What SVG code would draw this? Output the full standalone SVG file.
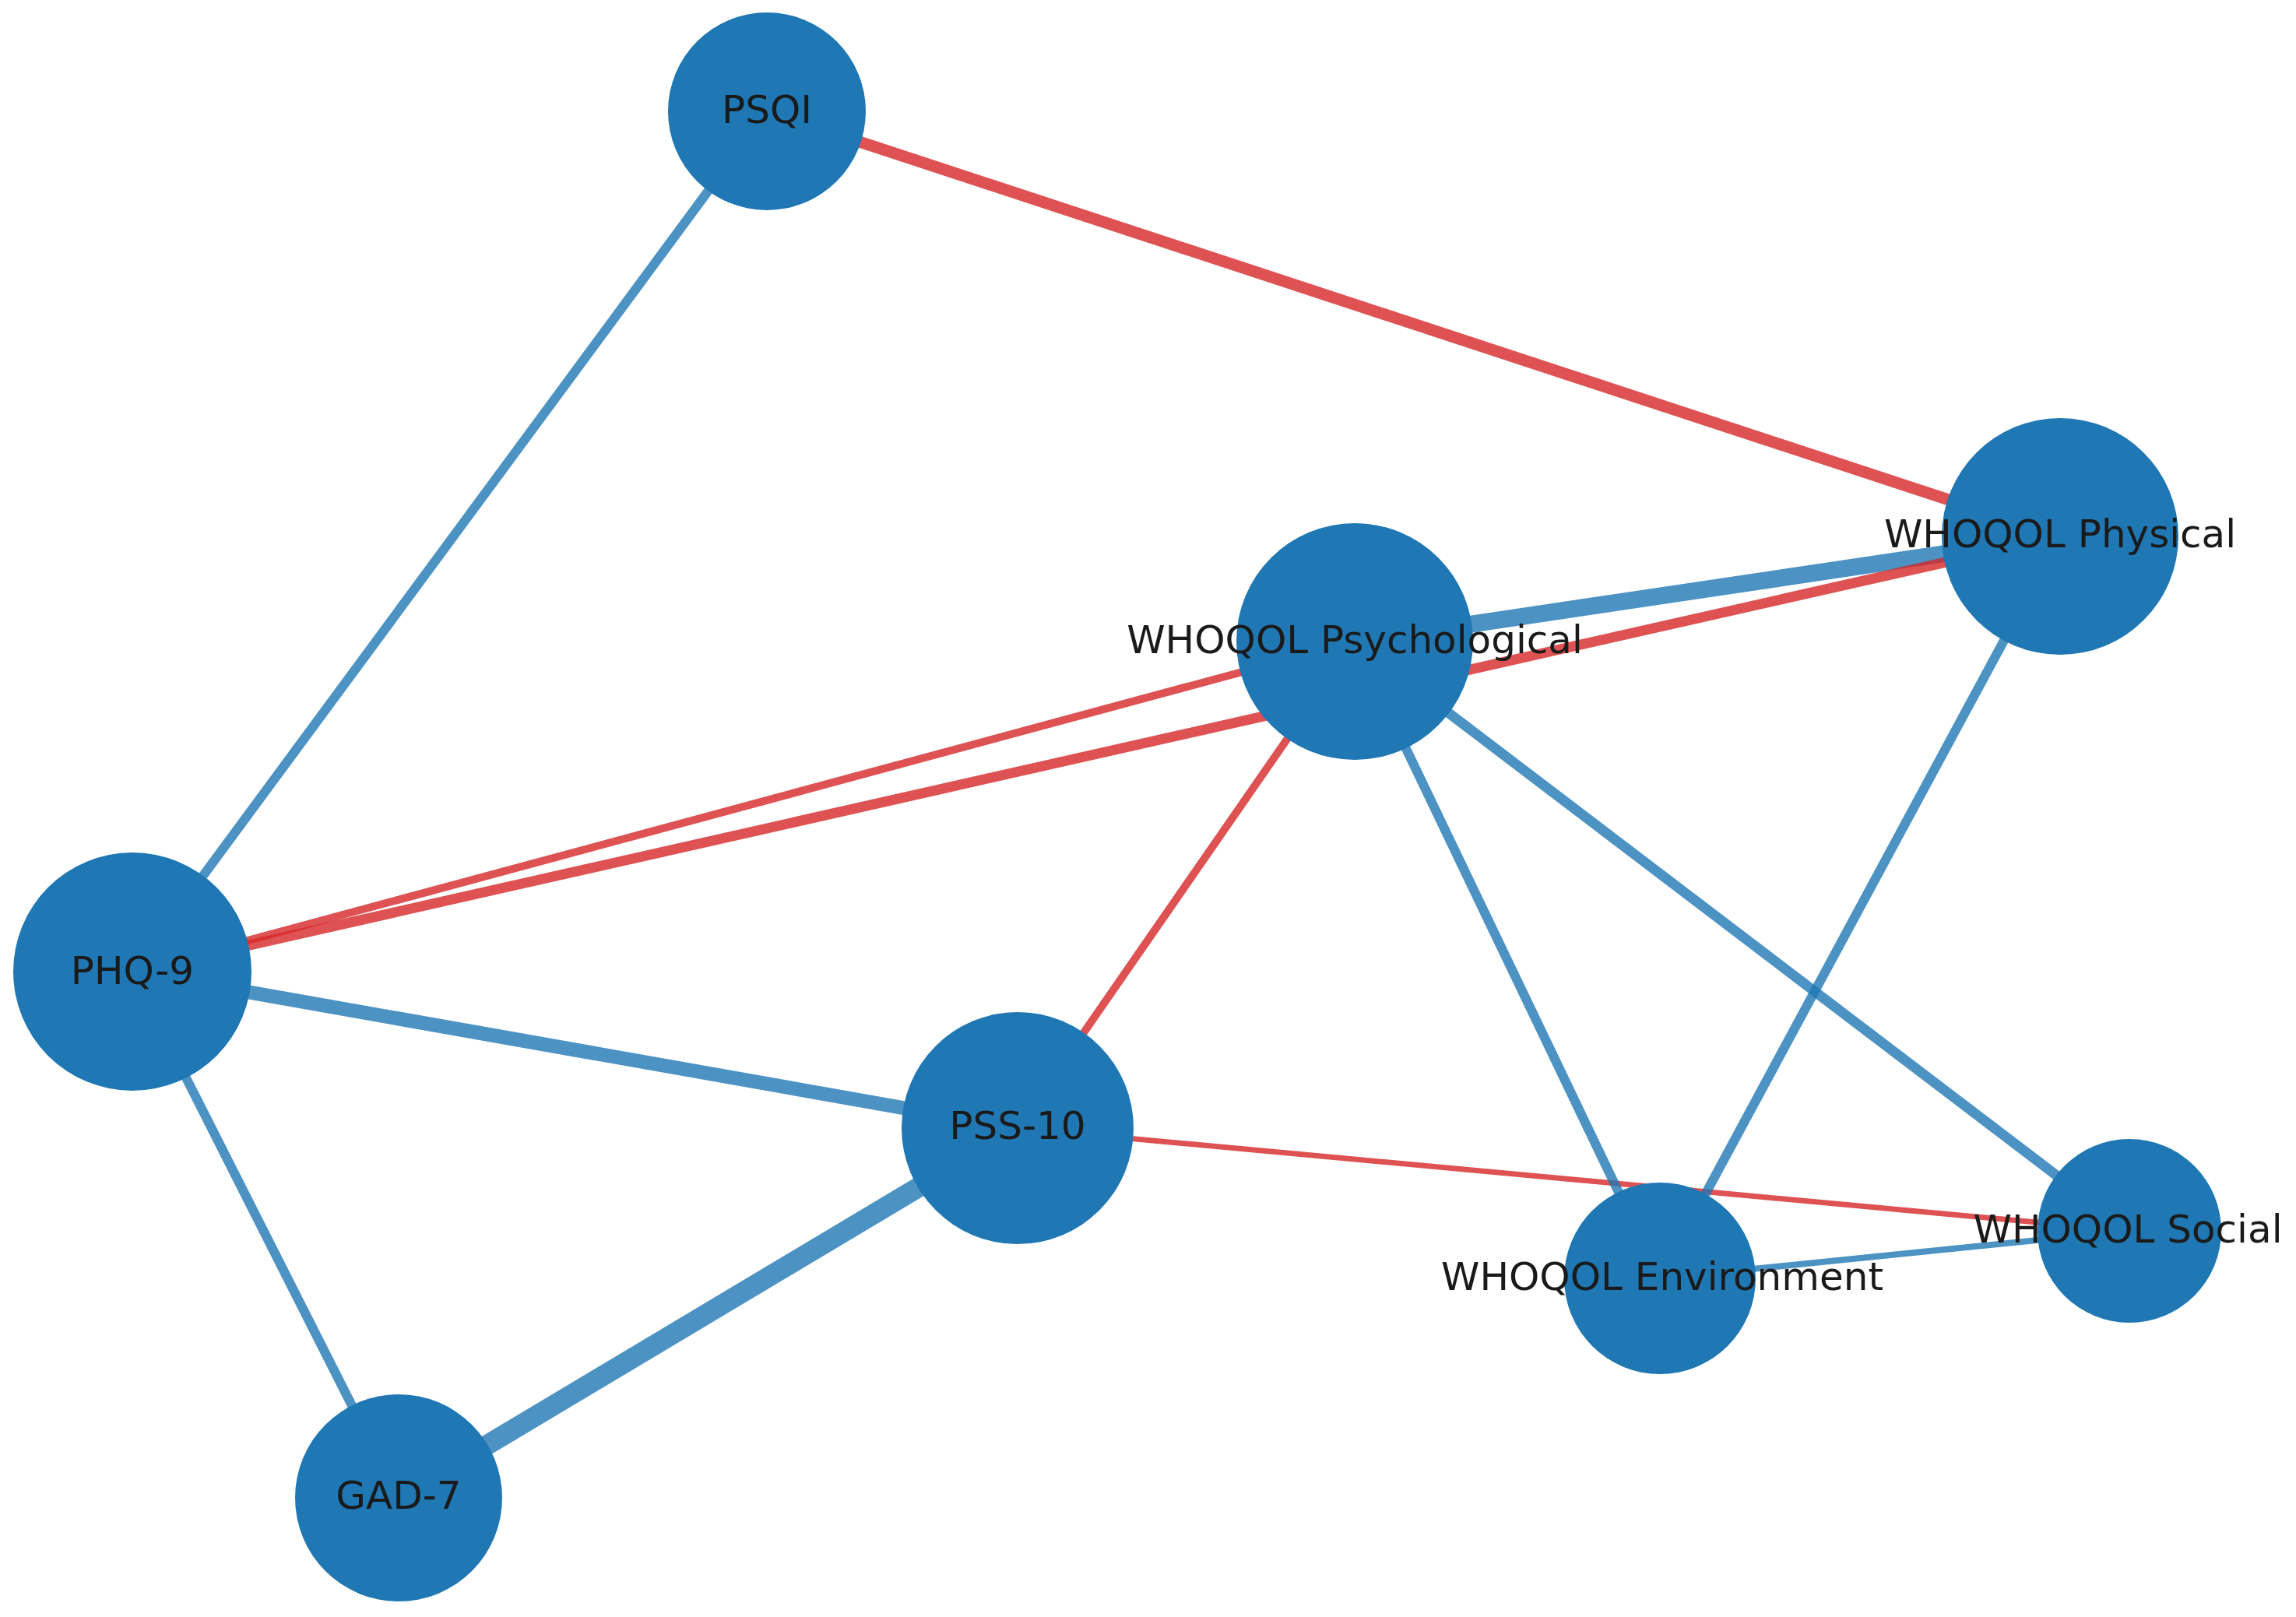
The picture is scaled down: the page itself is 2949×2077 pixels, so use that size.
<svg xmlns="http://www.w3.org/2000/svg" width="2949" height="2077" viewBox="0 0 2949 2077">
<style>
.e{fill:none;stroke-linecap:butt;stroke-opacity:0.8}
.pos{stroke:#1f77b4}
.neg{stroke:#d62728}
.n{fill:#1f77b4}
.t{font-family:"DejaVu Sans",Verdana,sans-serif;font-size:50px;fill:#1a1a1a;text-anchor:middle}
</style>
<rect width="2949" height="2077" fill="#ffffff"/>
<g id="connectors">
<line class="e neg" x1="985" y1="143" x2="2646" y2="689" stroke-width="15"/>
<line class="e pos" x1="985" y1="143" x2="170" y2="1248" stroke-width="12"/>
<line class="e pos" x1="1740" y1="824" x2="2646" y2="689" stroke-width="22"/>
<line class="e neg" x1="170" y1="1248" x2="2646" y2="689" stroke-width="13"/>
<line class="e neg" x1="170" y1="1248" x2="1740" y2="824" stroke-width="10"/>
<line class="e pos" x1="170" y1="1248" x2="1307" y2="1449" stroke-width="18"/>
<line class="e pos" x1="170" y1="1248" x2="512" y2="1924" stroke-width="12"/>
<line class="e pos" x1="1307" y1="1449" x2="512" y2="1924" stroke-width="26"/>
<line class="e neg" x1="1307" y1="1449" x2="1740" y2="824" stroke-width="10"/>
<line class="e neg" x1="1307" y1="1449" x2="2735" y2="1581" stroke-width="7"/>
<line class="e pos" x1="1740" y1="824" x2="2132" y2="1642" stroke-width="12"/>
<line class="e pos" x1="1740" y1="824" x2="2735" y2="1581" stroke-width="13"/>
<line class="e pos" x1="2646" y1="689" x2="2132" y2="1642" stroke-width="12"/>
<line class="e pos" x1="2132" y1="1642" x2="2735" y2="1581" stroke-width="8"/>
</g>
<g id="node-psqi"><circle class="n" cx="985" cy="143" r="127"/></g>
<g id="node-whoqol-physical"><circle class="n" cx="2646" cy="689" r="152"/></g>
<g id="node-whoqol-psychological"><circle class="n" cx="1740" cy="824" r="152"/></g>
<g id="node-phq9"><circle class="n" cx="170" cy="1248" r="153"/></g>
<g id="node-pss10"><circle class="n" cx="1307" cy="1449" r="149"/></g>
<g id="node-gad7"><circle class="n" cx="512" cy="1924" r="133"/></g>
<g id="node-whoqol-environment"><circle class="n" cx="2132" cy="1642" r="123"/></g>
<g id="node-whoqol-social"><circle class="n" cx="2735" cy="1581" r="118"/></g>
<g id="labels">
<text class="t" x="985" y="158">PSQI</text>
<text class="t" x="2646" y="703">WHOQOL Physical</text>
<text class="t" x="1740" y="839">WHOQOL Psychological</text>
<text class="t" x="170" y="1264">PHQ-9</text>
<text class="t" x="1307" y="1463">PSS-10</text>
<text class="t" x="512" y="1938">GAD-7</text>
<text class="t" x="2135" y="1657">WHOQOL Environment</text>
<text class="t" x="2733" y="1596">WHOQOL Social</text>
</g>
</svg>
